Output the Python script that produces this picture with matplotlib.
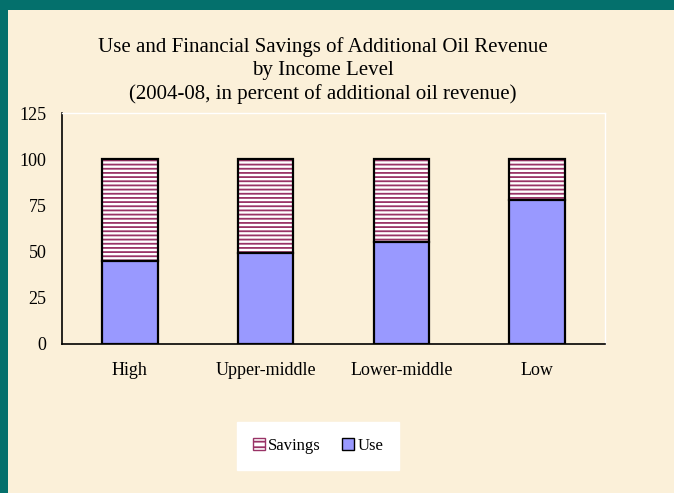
import numpy as np
import matplotlib; matplotlib.use("Agg")
import matplotlib.pyplot as plt
from matplotlib.patches import Rectangle, Patch

# data
categories = ['High', 'Upper-middle', 'Lower-middle', 'Low']
use = [45, 49, 55, 78]
savings = [100 - u for u in use]
yticks = [0, 25, 50, 75, 100, 125]

teal = '#04706c'
beige = '#fbf0d9'
blue = '#9999ff'
plum = '#993366'

plt.rcParams['font.family'] = 'Liberation Serif'
plt.rcParams['hatch.linewidth'] = 1.3

fig = plt.figure(figsize=(6.74, 4.93), dpi=100)
fig.patch.set_facecolor(teal)
# beige slide area
fig.patches.append(Rectangle((8/674, 0), 1, 1 - 10/493, transform=fig.transFigure,
                             facecolor=beige, edgecolor='none', zorder=-5))

ax = fig.add_axes([62/674, 1 - 344/493, (605 - 62)/674, (344 - 113)/493])
ax.set_facecolor('none')

x = np.arange(len(categories))
w = 0.41
ax.bar(x, savings, w, bottom=use, color='white', edgecolor=plum, hatch='----',
       linewidth=0, zorder=3)
ax.bar(x, savings, w, bottom=use, fill=False, edgecolor='black', linewidth=1.6, zorder=4)
ax.bar(x, use, w, color=blue, edgecolor='black', linewidth=1.6, zorder=5)

ax.set_xlim(-0.5, len(categories) - 0.5)
ax.set_ylim(0, 125)
ax.set_yticks(yticks)
ax.set_xticks(x)
ax.set_xticklabels(categories, fontsize=13)
ax.tick_params(axis='y', labelsize=13, length=0, pad=11)
ax.tick_params(axis='x', length=0, pad=13)
for s in ['top', 'right']:
    ax.spines[s].set_color('white')
    ax.spines[s].set_linewidth(1)
for s in ['left', 'bottom']:
    ax.spines[s].set_color('black')
    ax.spines[s].set_linewidth(1.2)

fig.text(323/674, 1 - 70.5/493,
         'Use and Financial Savings of Additional Oil Revenue\nby Income Level\n'
         '(2004-08, in percent of additional oil revenue)',
         ha='center', va='center', fontsize=15, linespacing=1.3)

handles = [Patch(facecolor='white', edgecolor=plum, hatch='---'),
           Patch(facecolor=blue, edgecolor='black')]
leg = fig.legend(handles, ['Savings', 'Use'], loc='center', ncol=2,
                 bbox_to_anchor=(318/674, 1 - 446/493), frameon=True, fancybox=False,
                 fontsize=12, handlelength=0.7, handleheight=0.7, handletextpad=0.2,
                 columnspacing=1.3, borderpad=0.95, borderaxespad=0)
leg.get_frame().set_facecolor('white')
leg.get_frame().set_edgecolor('white')
leg.get_frame().set_alpha(1)

fig.savefig('out.png', dpi=100, facecolor=fig.get_facecolor())
